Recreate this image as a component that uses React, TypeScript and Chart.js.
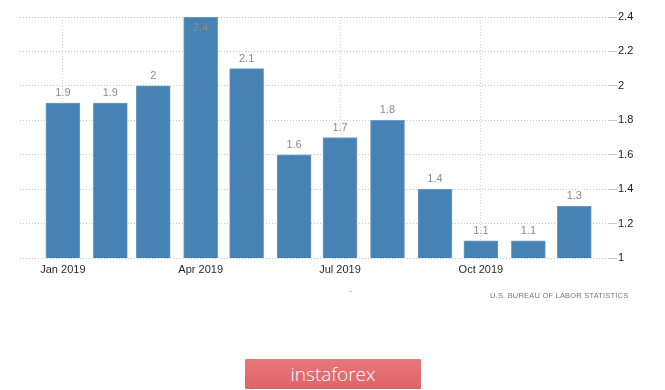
import React, { useEffect, useRef } from "react";
import { Chart, registerables } from "chart.js";

Chart.register(...registerables);

// ---- data ----
const monthDates = [
  "2019-01-01", "2019-02-01", "2019-03-01", "2019-04-01", "2019-05-01", "2019-06-01",
  "2019-07-01", "2019-08-01", "2019-09-01", "2019-10-01", "2019-11-01", "2019-12-01",
];
const inflationValues = [1.9, 1.9, 2.0, 2.4, 2.1, 1.6, 1.7, 1.8, 1.4, 1.1, 1.1, 1.3];
const xTickDates = ["2019-01-01", "2019-04-01", "2019-07-01", "2019-10-01"];
const xTickLabels = ["Jan 2019", "Apr 2019", "Jul 2019", "Oct 2019"];
const yTickValues = [1, 1.2, 1.4, 1.6, 1.8, 2, 2.2, 2.4];
const yTickLabels = ["1", "1.2", "1.4", "1.6", "1.8", "2", "2.2", "2.4"];
const sourceText = "U.S. BUREAU OF LABOR STATISTICS";
const brandText = "instaforex";

const base = Date.UTC(2019, 0, 1);
const dayOf = (s: string) => {
  const [y, m, d] = s.split("-").map(Number);
  return Math.round((Date.UTC(y, m - 1, d) - base) / 86400000);
};

const FONT = "'Liberation Sans', Arial, sans-serif";

const valueLabels = {
  id: "valueLabels",
  afterDatasetsDraw(chart: any) {
    const ctx = chart.ctx;
    const meta = chart.getDatasetMeta(0);
    const area = chart.chartArea;
    ctx.save();
    ctx.font = `11px ${FONT}`;
    ctx.fillStyle = "#8c8c8c";
    ctx.textAlign = "center";
    ctx.textBaseline = "middle";
    meta.data.forEach((bar: any, i: number) => {
      let y = bar.y - 10;
      if (y - 5 < area.top) y = bar.y + 11;
      ctx.fillText(String(inflationValues[i]), bar.x, y);
    });
    ctx.restore();
  },
};

export default function App() {
  const ref = useRef<HTMLCanvasElement>(null);
  useEffect(() => {
    if (!ref.current) return;
    const chart = new Chart(ref.current, {
      type: "bar",
      data: {
        datasets: [
          {
            data: monthDates.map((d, i) => ({ x: dayOf(d), y: inflationValues[i] })),
            backgroundColor: "#4682b4",
            borderColor: "#6b9ccb",
            borderWidth: 1,
            barThickness: 34,
          },
        ],
      },
      options: {
        animation: false,
        responsive: false,
        devicePixelRatio: 1,
        layout: { padding: { left: 20, top: 17, right: 0, bottom: 0 } },
        plugins: { legend: { display: false }, tooltip: { enabled: false } },
        scales: {
          x: {
            type: "linear",
            offset: false,
            min: dayOf("2018-12-04"),
            max: dayOf("2019-12-23"),
            afterBuildTicks: (scale: any) => {
              scale.ticks = xTickDates.map((d) => ({ value: dayOf(d) }));
            },
            afterFit: (scale: any) => {
              scale.height = 42;
            },
            border: { display: false, dash: [1, 2] },
            grid: {
              offset: false,
              color: "#d0d0d0",
              tickLength: 0,
              drawOnChartArea: true,
            },
            ticks: {
              padding: 5,
              color: "#2a2a2a",
              font: { family: FONT, size: 11 },
              maxRotation: 0,
              autoSkip: false,
              callback: (v: any) => {
                const idx = xTickDates.findIndex((d) => dayOf(d) === v);
                return idx >= 0 ? xTickLabels[idx] : "";
              },
            },
          },
          y: {
            position: "right",
            min: 1,
            max: 2.4,
            afterBuildTicks: (scale: any) => {
              scale.ticks = yTickValues.map((v) => ({ value: v }));
            },
            afterFit: (scale: any) => {
              scale.width = 57;
            },
            border: { display: false, dash: [1, 2] },
            grid: {
              color: "#c8c8c8",
              tickLength: 9,
            },
            ticks: {
              padding: 1,
              color: "#1a1a1a",
              font: { family: FONT, size: 11 },
              callback: (v: any) => {
                const idx = yTickValues.findIndex((t) => Math.abs(t - v) < 1e-6);
                return idx >= 0 ? yTickLabels[idx] : "";
              },
            },
          },
        },
      } as any,
      plugins: [valueLabels],
    });
    return () => chart.destroy();
  }, []);

  return (
    <div
      style={{
        position: "fixed",
        left: 0,
        top: 0,
        width: 665,
        height: 390,
        background: "#fff",
        overflow: "hidden",
      }}
    >
      <canvas ref={ref} width={665} height={300} style={{ display: "block" }} />
      <div
        style={{
          position: "absolute",
          left: 349,
          top: 286,
          fontFamily: FONT,
          fontSize: 9,
          color: "#999",
        }}
      >
        -
      </div>
      <div
        style={{
          position: "absolute",
          left: 490,
          top: 291,
          fontFamily: FONT,
          fontSize: 7.5,
          letterSpacing: 0.2,
          color: "#777",
          whiteSpace: "nowrap",
        }}
      >
        {sourceText}
      </div>
      <div
        style={{
          position: "absolute",
          left: 245,
          top: 359,
          width: 176,
          height: 30,
          background: "linear-gradient(#e8777a, #dc6468)",
          borderRadius: 1,
          display: "flex",
          alignItems: "center",
          justifyContent: "center",
          color: "#fff",
          fontFamily: "'Open Sans', sans-serif",
          fontSize: 19,
          fontWeight: 300,
          lineHeight: "30px",
        }}
      >
        {brandText}
      </div>
    </div>
  );
}
